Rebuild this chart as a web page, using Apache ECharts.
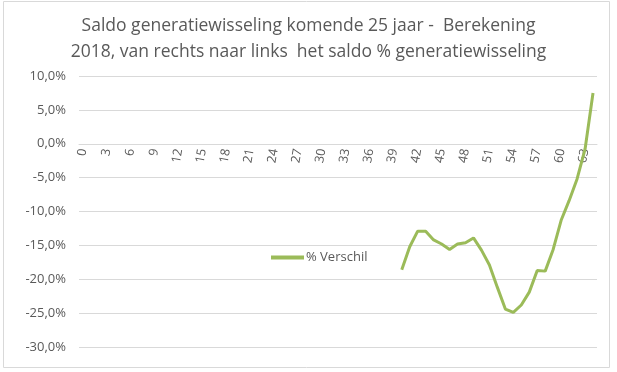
<!DOCTYPE html>
<html><head><meta charset="utf-8">
<script src="https://cdn.jsdelivr.net/npm/echarts@6/dist/echarts.min.js"></script>
<style>html,body{margin:0;padding:0;background:#fff}#c{width:617px;height:372px}</style>
</head><body><div id="c"></div>
<script>
var categories = [];
for (var i = 0; i <= 64; i++) categories.push(String(i));
var seriesName = '% Verschil';
// values in %, index = category; null before 40
var verschil = [null,null,null,null,null,null,null,null,null,null,
  null,null,null,null,null,null,null,null,null,null,
  null,null,null,null,null,null,null,null,null,null,
  null,null,null,null,null,null,null,null,null,null,
  -18.6,-15.2,-12.9,-12.9,-14.2,-14.8,-15.6,-14.8,-14.6,-13.9,
  -15.7,-17.9,-21.2,-24.4,-24.9,-23.8,-21.9,-18.7,-18.8,-15.6,
  -11.3,-8.4,-5.2,-0.8,7.5];
var yTicks = {min: -30, max: 10, interval: 5};
var titleLines = ['Saldo generatiewisseling komende 25 jaar -  Berekening', '2018, van rechts naar links  het saldo % generatiewisseling'];

var gridTop = 76, gridBottom = 25, H = 372;
var plotH = H - gridTop - gridBottom;
var zeroOffset = -plotH * (0 - yTicks.min) / (yTicks.max - yTicks.min);

var chart = echarts.init(document.getElementById('c'));
chart.setOption({
  animation: false,
  graphic: [{type:'rect', shape:{x:3.5,y:1.5,width:606,height:366}, style:{fill:'none', stroke:'#d9d9d9', lineWidth:1}, silent:true}],
  title: {
    text: titleLines.join('\n'), left: 'center', top: 8,
    textStyle: {fontFamily: 'Open Sans', fontSize: 17.5, fontWeight: 'normal', color: '#595959', lineHeight: 26}
  },
  legend: {
    data: [seriesName], left: 266, top: 246, itemWidth: 33, itemHeight: 4, itemGap: 4,
    icon: 'rect',
    textStyle: {fontFamily: 'Open Sans', fontSize: 13, color: '#595959', padding:[0,0,0,-3]}
  },
  grid: {left: 79, right: 20, top: gridTop, bottom: gridBottom, containLabel: false},
  xAxis: {
    type: 'category', data: categories, boundaryGap: true,
    offset: zeroOffset,
    axisLine: {onZero: false, lineStyle: {color: '#d9d9d9'}},
    axisTick: {show: false},
    axisLabel: {interval: 2, rotate: 80, fontFamily: 'Open Sans', fontSize: 12.5, color: '#595959', margin: 5}
  },
  yAxis: {
    type: 'value', min: yTicks.min, max: yTicks.max, interval: yTicks.interval,
    axisLine: {show: false}, axisTick: {show: false},
    splitLine: {lineStyle: {color: '#d9d9d9'}},
    axisLabel: {fontFamily: 'Open Sans', fontSize: 13, color: '#595959', margin: 13,
      formatter: function(v){ return v.toFixed(1).replace('.', ',') + '%'; }}
  },
  series: [{
    name: seriesName, type: 'line', data: verschil, showSymbol: false, symbol: 'none',
    lineStyle: {color: '#9BBB59', width: 3}, itemStyle: {color: '#9BBB59'}
  }]
});
</script></body></html>
